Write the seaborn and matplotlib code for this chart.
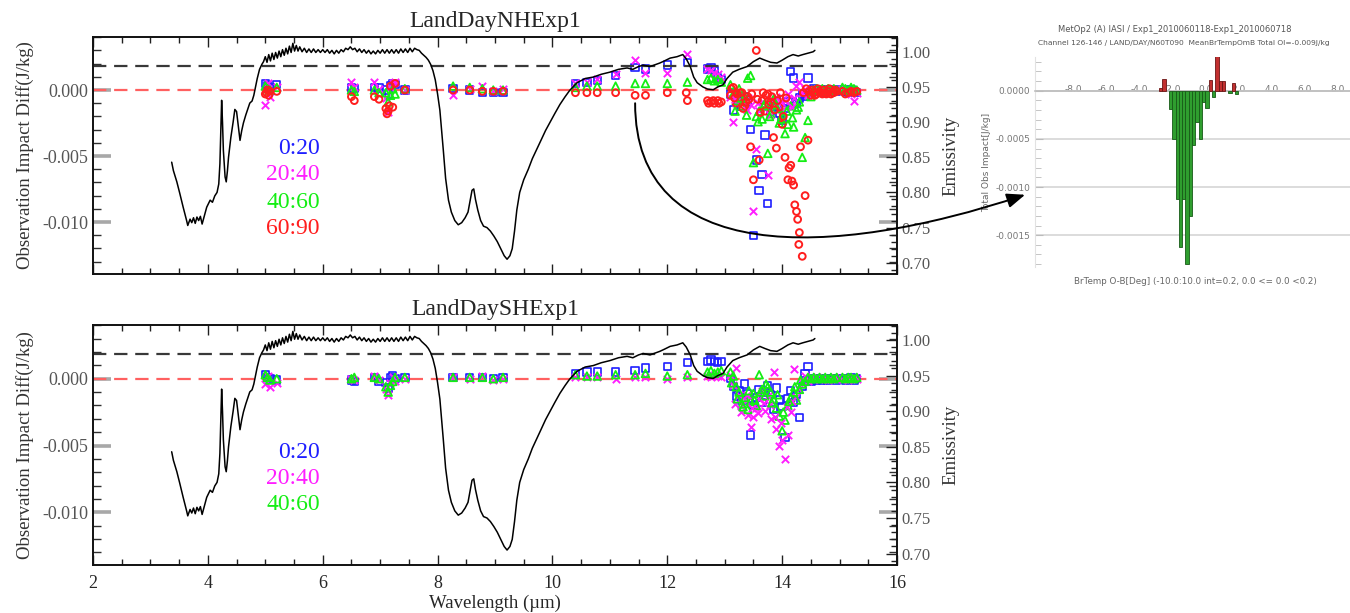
import matplotlib
matplotlib.use('Agg')
import numpy as np
import matplotlib.pyplot as plt
import seaborn as sns
from matplotlib.ticker import MultipleLocator, FormatStrFormatter
from matplotlib.path import Path
from matplotlib.patches import FancyArrowPatch

# ---------------------------------------------------------------- data
# IASI channel wavelengths (um), shared by every latitude band
wavelength = [
    5.00, 5.04, 5.08, 5.20,
    6.50, 6.55, 6.90, 6.98,
    7.10, 7.14, 7.18, 7.22, 7.26, 7.43,
    8.27, 8.56, 8.78, 8.97, 9.14,
    10.40, 10.60, 10.78, 11.10, 11.44, 11.62, 12.00, 12.35,
    12.70, 12.76, 12.82, 12.88, 12.94,
    13.10, 13.15, 13.20, 13.25, 13.30, 13.35, 13.40, 13.45, 13.50, 13.55,
    13.60, 13.65, 13.70, 13.75, 13.80, 13.85, 13.90, 13.95, 14.00, 14.05,
    14.10, 14.15, 14.20, 14.25, 14.30, 14.35, 14.40, 14.45, 14.50, 14.55,
    14.60, 14.65, 14.70, 14.75, 14.80, 14.85, 14.90, 14.95,
    15.05, 15.10, 15.15, 15.20, 15.25, 15.30,
]

# observation impact differences, in 1e-3 J/kg
nh_0_20 = [
    0.5, 0.3, 0.2, 0.4,
    0.15, 0.1, 0.2, 0.15,
    0.0, -0.3, 0.3, 0.5, 0.4, 0.0,
    0.1, 0.0, -0.2, -0.2, -0.2,
    0.5, 0.55, 0.7, 1.1, 1.7, 1.6, 1.9, 2.1,
    1.6, 1.7, 1.5, 0.9, 0.8,
    -0.3, -1.5, -0.6, -0.8, -1.2, -0.5, -0.9, -3.0, -11.0, -5.3,
    -7.6, -6.4, -3.4, -8.6, -1.6, -1.2, -0.8, -1.8, -2.3, -1.4,
    -0.9, 1.4, 0.9, -1.0, -0.6, -0.3, -0.5, 0.9, -0.2, 0.1,
    0.0, -0.1, 0.0, -0.2, 0.0, -0.1, 0.0, -0.1,
    0.0, -0.1, -0.2, 0.0, -0.1, -0.2,
]
nh_20_40 = [
    -1.1, 0.5, -0.5, 0.2,
    0.6, 0.2, 0.6, 0.1,
    -0.6, -1.7, 0.2, 0.5, 0.6, 0.0,
    -0.4, 0.1, 0.3, -0.1, 0.1,
    0.5, 0.6, 0.8, 1.2, 2.3, 1.3, 1.3, 2.7,
    1.6, 1.5, 1.3, 1.2, 1.0,
    -0.5, -2.4, -1.0, -0.3, -0.8, -1.3, -0.6, -1.1, -9.2, -4.5,
    -1.6, -0.9, -1.4, -6.4, -0.7, -1.2, -0.5, -1.0, -1.5, -0.8,
    -0.3, -1.1, -0.6, 0.3, 0.6, -0.2, 0.1, -0.4, 0.0, -0.1,
    0.1, 0.0, -0.1, 0.0, 0.1, 0.0, -0.1, 0.0,
    0.1, 0.0, -0.1, -0.3, -0.8, -0.2,
]
nh_40_60 = [
    0.3, 0.1, 0.0, 0.2,
    0.0, -0.1, 0.0, -0.2,
    -0.2, -0.9, -0.4, 0.1, -0.3, 0.1,
    0.3, 0.2, 0.1, 0.0, 0.0,
    0.2, 0.3, 0.3, 0.3, 0.5, 0.5, 0.5, 0.6,
    0.8, 0.9, 0.7, 0.8, 0.6,
    0.4, -0.3, -0.8, 0.1, -1.2, -0.5, 0.9, 1.1, -5.5, -2.0,
    -1.6, -2.2, -1.0, -4.8, -1.8, -0.7, -1.4, -2.5, -1.9, -3.3,
    -2.6, -1.2, -2.8, -1.5, -0.9, -5.1, -3.6, -2.3, -0.5, 0.0,
    0.1, 0.0, 0.1, 0.0, 0.1, 0.0, 0.1, 0.0,
    0.2, 0.1, 0.0, 0.2, 0.1, 0.0,
]
nh_60_90 = [
    -0.3, 0.0, -0.1, -0.1,
    -0.5, -0.8, -0.5, -0.7,
    -1.4, -1.6, 0.3, -1.3, 0.5, 0.0,
    0.0, 0.0, -0.1, -0.1, -0.1,
    -0.2, -0.2, -0.2, -0.2, -0.4, -0.4, -0.2, -0.8,
    -0.8, -0.9, -1.0, -0.8, -0.9,
    -0.4, 0.2, -1.0, -0.6, -0.2, -1.2, -0.5, -4.3, -6.8, 3.0,
    -5.3, -0.8, -1.6, -0.3, -0.9, -3.6, -4.4, -1.3, -2.6, -5.1,
    -6.8, -5.7, -7.2, -9.2, -10.8, -12.6, -8.0, -3.8, -0.4, -0.2,
    -0.3, -0.1, -0.3, -0.2, -0.1, -0.3, -0.2, -0.1,
    -0.1, -0.3, -0.2, -0.1, -0.2, -0.1,
]

# extra channels that sit between the shared ones
nh_20_40_extra_wl = [13.18, 13.38, 13.58, 13.78, 13.98, 14.18]
nh_20_40_extra = [-0.7, -1.5, -1.0, -1.9, -0.9, -1.3]
nh_40_60_extra_wl = [13.18, 13.28, 13.38, 13.58, 13.68, 13.78, 13.88, 13.98,
                     14.08, 14.18, 14.28]
nh_40_60_extra = [-1.6, -0.6, -1.9, -2.4, -1.2, -2.0, -1.1, -2.2,
                  -1.6, -2.1, -1.3]
nh_60_90_extra_wl = [5.02, 5.06, 7.12, 7.16, 12.33, 12.72, 12.80, 12.90,
                     13.12, 13.22, 13.32, 13.42, 13.62, 13.72, 13.87, 14.02,
                     14.12, 14.17, 14.22, 14.27, 14.29, 14.32, 14.37, 14.42,
                     14.47, 14.52, 14.62, 14.72, 14.82, 14.92,
                     13.17, 13.27, 13.37, 13.47, 13.57, 13.67, 13.77, 13.82,
                     13.92, 13.97, 14.07, 14.57, 14.67, 14.77, 14.87]
nh_60_90_extra = [-0.2, -0.4, -1.8, -1.2, -0.2, -1.0, -0.8, -1.0,
                  0.1, -0.3, -1.4, -0.7, -1.7, -0.4, -1.5, -2.0,
                  -5.9, -6.9, -8.7, -9.8, -11.7, -4.3, -0.2, 0.1,
                  -0.1, 0.0, 0.1, 0.0, 0.1, 0.0,
                  -0.6, -0.2, -0.9, -0.3, -0.7, -0.2, -1.1, -0.5,
                  -0.8, -0.2, -0.6, -0.4, -0.2, -0.3, -0.2]

sh_0_20 = [
    0.3, 0.1, 0.0, -0.1,
    -0.1, -0.2, 0.1, -0.2,
    -0.3, -0.7, 0.1, 0.2, 0.0, 0.1,
    0.1, 0.1, 0.1, 0.0, 0.1,
    0.4, 0.5, 0.5, 0.5, 0.6, 0.8, 0.9, 1.2,
    1.3, 1.4, 1.3, 1.2, 1.3,
    0.0, -0.6, -1.3, -0.9, -1.6, -0.4, -1.1, -4.2, -2.0, -1.4,
    -0.8, -1.8, -1.0, -0.5, -1.2, -2.3, -0.7, -1.6, -2.1, -4.4,
    -1.5, -0.9, -1.8, -1.2, -2.9, -0.6, 0.4, 0.9, -0.2, 0.0,
    -0.1, 0.0, -0.1, 0.0, -0.1, 0.0, 0.0, -0.1,
    0.0, -0.1, 0.0, 0.1, -0.1, 0.0,
]
sh_20_40 = [
    -0.4, 0.2, -0.6, -0.3,
    0.0, -0.1, 0.2, -0.1,
    -0.8, -1.2, -0.3, 0.1, -0.2, 0.0,
    0.1, 0.0, 0.2, -0.1, 0.0,
    0.1, 0.1, 0.1, 0.0, 0.1, 0.1, 0.0, 0.1,
    0.2, 0.1, 0.3, 0.2, 0.1,
    0.3, -0.5, 0.8, -1.2, -2.0, -1.6, -2.7, -3.6, -2.9, -2.2,
    -1.5, -0.9, -2.4, -1.3, -3.0, 0.5, -3.8, -5.0, -4.6, -6.0,
    -4.2, -2.5, 0.7, -1.4, -0.8, -0.3, 0.2, -0.2, 0.1, 0.0,
    0.1, 0.0, 0.1, 0.0, -0.1, 0.0, 0.1, 0.0,
    0.0, 0.1, -0.1, 0.0, 0.1, 0.0,
]
sh_40_60 = [
    0.3, 0.1, -0.1, 0.0,
    0.0, 0.1, 0.1, 0.0,
    -0.6, -1.0, -0.5, -0.2, 0.1, 0.1,
    0.1, 0.1, 0.1, 0.0, 0.1,
    0.3, 0.2, 0.2, 0.3, 0.3, 0.4, 0.2, 0.3,
    0.5, 0.6, 0.4, 0.5, 0.6,
    0.5, 0.2, -0.6, -1.0, -1.9, -1.4, -2.3, -1.7, -1.1, -2.0,
    0.3, -0.8, -1.3, -0.6, -1.0, -1.5, -2.2, -2.8, -3.9, -3.1,
    -2.0, -1.4, -1.0, -1.6, -0.8, -0.4, -0.2, 0.1, 0.0, 0.1,
    0.0, 0.1, 0.0, 0.1, 0.0, 0.1, 0.0, 0.1,
    0.1, 0.0, 0.1, 0.1, 0.0, 0.1,
]
sh_20_40_extra_wl = [13.18, 13.28, 13.38, 13.48, 13.58, 13.68, 13.78, 13.88,
                     13.98, 14.08, 14.18]
sh_20_40_extra = [-1.9, -2.5, -1.2, -2.2, -2.6, -1.8, -2.0, -2.9,
                  -3.3, -2.1, -1.7]
sh_40_60_extra_wl = [13.12, 13.22, 13.32, 13.42, 13.52, 13.62, 13.72,
                     13.82, 13.92, 14.02, 14.12, 14.22, 14.32]
sh_40_60_extra = [-0.3, -1.5, -2.1, -0.9, -1.6, -1.0, -0.4,
                  -1.8, -1.2, -2.5, -1.7, -0.6, -0.1]

# land surface emissivity spectrum
emis_wl = [
    3.37, 3.40, 3.46, 3.51, 3.57, 3.63, 3.65, 3.69, 3.72, 3.75,
    3.78, 3.81, 3.84, 3.87, 3.90, 3.93, 3.98, 4.04, 4.08, 4.12,
    4.16, 4.19, 4.21, 4.23, 4.24, 4.255, 4.27, 4.30, 4.32, 4.34,
    4.36, 4.40, 4.44, 4.47, 4.50, 4.53, 4.56, 4.59, 4.62, 4.66,
    4.70, 4.73, 4.77, 4.80, 4.83, 4.86, 4.90, 4.94,
    4.97, 5.00, 5.03, 5.06, 5.09, 5.12, 5.15, 5.18, 5.21, 5.24,
    5.27, 5.30, 5.33, 5.36, 5.39, 5.42, 5.45, 5.48, 5.51, 5.54,
    5.57, 5.60, 5.64, 5.68, 5.72, 5.76, 5.80, 5.84, 5.88, 5.92,
    5.96, 6.00, 6.04, 6.08, 6.12, 6.16, 6.20, 6.24, 6.28, 6.32,
    6.36, 6.40, 6.44, 6.48, 6.52, 6.56, 6.60, 6.64, 6.68, 6.72,
    6.76, 6.80, 6.84, 6.88, 6.92, 6.96, 7.00, 7.04, 7.08, 7.12,
    7.16, 7.20, 7.24, 7.28, 7.32, 7.36, 7.40, 7.44, 7.48, 7.52,
    7.56, 7.60, 7.64, 7.68, 7.72, 7.76, 7.80, 7.84, 7.88, 7.92,
    7.96, 8.00, 8.04, 8.08, 8.10, 8.14, 8.19, 8.24, 8.30, 8.36,
    8.42, 8.48, 8.53, 8.57, 8.60, 8.63, 8.66, 8.70, 8.75, 8.80,
    8.86, 8.92, 8.98, 9.04, 9.10, 9.16, 9.21, 9.26, 9.30, 9.34,
    9.38, 9.43, 9.50, 9.58, 9.65, 9.72, 9.80, 9.88, 9.96, 10.04,
    10.13, 10.22, 10.30, 10.43, 10.57, 10.71, 10.85, 11.00, 11.15, 11.30,
    11.40, 11.50, 11.58, 11.70, 11.80, 11.87, 11.95, 12.05, 12.17, 12.27,
    12.33, 12.40, 12.46, 12.52, 12.62, 12.70, 12.80, 12.88, 12.97, 13.04,
    13.14, 13.25, 13.39, 13.50, 13.61, 13.70, 13.80, 13.91, 14.00, 14.10,
    14.19, 14.28, 14.36, 14.45, 14.54, 14.57,
]
emissivity = [
    0.843, 0.831, 0.815, 0.799, 0.779, 0.760, 0.753, 0.762, 0.757, 0.764,
    0.756, 0.765, 0.760, 0.766, 0.755, 0.764, 0.779, 0.789, 0.786, 0.795,
    0.800, 0.812, 0.841, 0.900, 0.931, 0.900, 0.860, 0.822, 0.815, 0.830,
    0.850, 0.878, 0.900, 0.918, 0.915, 0.895, 0.874, 0.888, 0.899, 0.910,
    0.920, 0.927, 0.930, 0.938, 0.950, 0.962, 0.975, 0.982,
    0.986, 0.993, 0.985, 0.996, 0.987, 0.998, 0.989, 0.999, 0.991, 1.001,
    0.993, 1.003, 0.995, 1.005, 0.997, 1.008, 0.999, 1.012, 1.001, 1.009,
    1.001, 1.007, 1.000, 1.005, 0.999, 1.004, 0.999, 1.004, 0.999, 1.003,
    0.999, 1.003, 0.999, 1.003, 0.998, 1.002, 0.997, 1.002, 0.998, 1.003,
    1.000, 1.005, 1.003, 1.007, 1.003, 1.005, 1.000, 1.004, 0.999, 1.003,
    0.998, 1.002, 0.997, 1.001, 0.997, 1.002, 0.998, 1.003, 0.998, 1.003,
    0.998, 1.003, 0.998, 1.003, 0.998, 1.004, 0.999, 1.004, 0.999, 1.005,
    1.000, 1.005, 1.003, 1.002, 0.998, 0.995, 0.992, 0.988, 0.982, 0.973,
    0.960, 0.940, 0.917, 0.880, 0.860, 0.820, 0.789, 0.772, 0.760, 0.754,
    0.757, 0.764, 0.772, 0.790, 0.803, 0.805, 0.790, 0.775, 0.760, 0.752,
    0.750, 0.745, 0.738, 0.730, 0.720, 0.710, 0.705, 0.710, 0.720, 0.745,
    0.775, 0.800, 0.818, 0.833, 0.848, 0.860, 0.874, 0.888, 0.900, 0.912,
    0.925, 0.936, 0.945, 0.956, 0.962, 0.964, 0.968, 0.971, 0.975, 0.977,
    0.975, 0.979, 0.981, 0.979, 0.982, 0.984, 0.987, 0.991, 0.993, 0.996,
    0.990, 0.979, 0.964, 0.956, 0.950, 0.947, 0.946, 0.950, 0.953, 0.962,
    0.971, 0.975, 0.979, 0.986, 0.991, 0.988, 0.985, 0.984, 0.988, 0.993,
    0.996, 0.994, 0.996, 0.998, 1.000, 1.002,
]

# inset histogram: BrTemp O-B bins (deg) and total obs impact (1e-3 J/kg)
neg_bins = [-2.1, -1.9, -1.7, -1.5, -1.3, -1.1, -0.9, -0.7, -0.5, -0.3,
            -0.1, 0.1, 0.5, 1.5, 1.9]
neg_impact = [-0.19, -0.50, -1.12, -1.62, -1.12, -1.80, -1.30, -0.56, -0.32, -0.50,
              -0.12, -0.18, -0.07, -0.02, -0.03]
pos_bins = [-2.7, -2.5, 0.3, 0.7, 0.9, 1.1, 1.7]
pos_impact = [0.03, 0.12, 0.11, 0.36, 0.10, 0.10, 0.08]
inset_xticks = [-8, -6, -4, -2, 0, 2, 4, 6, 8]

# ---------------------------------------------------------------- style
sns.set_style('ticks')
plt.rcParams['font.family'] = ['Liberation Serif', 'DejaVu Serif']
plt.rcParams['axes.unicode_minus'] = False

BLUE, MAGENTA, GREEN, RED = '#1e1eff', '#ff1eff', '#14ee14', '#ff1e1e'

fig = plt.figure(figsize=(13.5, 6.13), dpi=100)
W, H = 1350, 613
ax_nh = fig.add_axes([93 / W, 1 - 274 / H, 804 / W, 237 / H])
ax_sh = fig.add_axes([93 / W, 1 - 565 / H, 804 / W, 240 / H])
ax_in = fig.add_axes([1035 / W, 1 - 267 / H, 315 / W, 210 / H])


def to_si(vals):
    return np.asarray(vals) * 1e-3


def draw_panel(ax, title, series, extras, labels, label_y):
    ax2 = ax.twinx()
    ax.axhline(0, color='#ff6060', lw=1.6, dashes=(6, 3.5), zorder=1)
    ax2.axhline(0.98, color='#383838', lw=1.6, dashes=(6, 3.5), zorder=1)
    sns.lineplot(x=emis_wl, y=emissivity, sort=False, estimator=None,
                 color='black', linewidth=1.1, ax=ax2)

    for vals, style in series:
        sns.scatterplot(x=wavelength, y=to_si(vals), ax=ax, zorder=3, **style)
    for xs, vals, style in extras:
        sns.scatterplot(x=xs, y=to_si(vals), ax=ax, zorder=3, **style)

    for (txt, col), yv in zip(labels, label_y):
        ax.text(5.95, yv, txt, color=col, ha='right', va='center', fontsize=17)

    ax.set_xlim(2, 16)
    ax.set_ylim(-0.01394, 0.00402)
    ax2.set_ylim(0.684, 1.021)
    ax.xaxis.set_major_locator(MultipleLocator(2))
    ax.xaxis.set_minor_locator(MultipleLocator(0.5))
    ax.yaxis.set_major_locator(MultipleLocator(0.005))
    ax.yaxis.set_minor_locator(MultipleLocator(0.001))
    ax.yaxis.set_major_formatter(FormatStrFormatter('%.3f'))
    ax2.yaxis.set_major_locator(MultipleLocator(0.05))
    ax2.yaxis.set_minor_locator(MultipleLocator(0.01))
    ax2.yaxis.set_major_formatter(FormatStrFormatter('%.2f'))

    ax.tick_params(axis='x', which='both', direction='in', top=True, bottom=True,
                   color='#202020')
    ax.tick_params(axis='x', which='major', length=7, width=1, labelsize=13, pad=7)
    ax.tick_params(axis='x', which='minor', length=4, width=1)
    ax.tick_params(axis='y', which='major', direction='in', left=True, right=True,
                   length=13, width=2.6, color='#a8a8a8', labelsize=13,
                   labelcolor='#555555')
    ax.tick_params(axis='y', which='minor', direction='in', left=True, right=True,
                   length=6, width=1, color='#303030')
    ax2.tick_params(axis='y', which='major', direction='in', length=8, width=1,
                    color='#202020', labelsize=12, labelcolor='#555555')
    ax2.tick_params(axis='y', which='minor', direction='in', length=4, width=1,
                    color='#202020')
    for a in (ax, ax2):
        for s in a.spines.values():
            s.set_color('#111111')
            s.set_linewidth(1.2)

    ax.set_title(title, fontsize=17, pad=7)
    ax.set_ylabel('Observation Impact Diff(J/kg)', fontsize=13.5, color='#333333',
                  labelpad=6)
    ax2.set_ylabel('Emissivity', fontsize=13.5, color='#333333', labelpad=8)
    ax2.set_xlabel('')
    return ax2


sq = dict(marker='s', s=28, facecolor='none', edgecolor=BLUE, linewidth=1.2)
xx = dict(marker='x', s=28, color=MAGENTA, linewidth=1.4)
tri = dict(marker='^', s=30, facecolor='none', edgecolor=GREEN, linewidth=1.3)
circ = dict(marker='o', s=24, facecolor='none', edgecolor=RED, linewidth=1.4)

draw_panel(ax_nh, 'LandDayNHExp1',
           [(nh_0_20, sq), (nh_20_40, xx), (nh_40_60, tri), (nh_60_90, circ)],
           [(nh_20_40_extra_wl, nh_20_40_extra, xx),
            (nh_40_60_extra_wl, nh_40_60_extra, tri),
            (nh_60_90_extra_wl, nh_60_90_extra, circ)],
           [('0:20', BLUE), ('20:40', MAGENTA), ('40:60', GREEN), ('60:90', RED)],
           [-0.0044, -0.0064, -0.0085, -0.0105])
ax_nh.tick_params(axis='x', labelbottom=False)

draw_panel(ax_sh, 'LandDaySHExp1',
           [(sh_0_20, sq), (sh_20_40, xx), (sh_40_60, tri)],
           [(sh_20_40_extra_wl, sh_20_40_extra, xx),
            (sh_40_60_extra_wl, sh_40_60_extra, tri)],
           [('0:20', BLUE), ('20:40', MAGENTA), ('40:60', GREEN)],
           [-0.0055, -0.0075, -0.0094])
ax_sh.set_xlabel('Wavelength (µm)', fontsize=13.5, labelpad=2)

# ---------------------------------------------------------------- inset histogram
ax_in.bar(neg_bins, to_si(neg_impact), width=0.2, color='#2f9e2f',
          edgecolor='#175a17', linewidth=0.6, zorder=3)
ax_in.bar(pos_bins, to_si(pos_impact), width=0.2, color='#c23030',
          edgecolor='#6a1414', linewidth=0.6, zorder=3)
ax_in.set_xlim(-10.3, 8.75)
ax_in.set_ylim(-0.00183, 0.00035)
ax_in.set_xticks(inset_xticks)
ax_in.xaxis.set_major_formatter(FormatStrFormatter('%.1f'))
ax_in.yaxis.set_major_locator(MultipleLocator(0.0005))
ax_in.yaxis.set_minor_locator(MultipleLocator(0.0001))
ax_in.yaxis.set_major_formatter(FormatStrFormatter('%.4f'))
ax_in.yaxis.grid(True, color='#d6d6d6', linewidth=1.2, zorder=0)
ax_in.set_axisbelow(True)
for s in ('top', 'right'):
    ax_in.spines[s].set_visible(False)
ax_in.spines['bottom'].set_position(('data', 0))
ax_in.spines['bottom'].set_color('#bdbdbd')
ax_in.spines['bottom'].set_linewidth(1.2)
ax_in.spines['left'].set_color('#e2e2e2')
ax_in.tick_params(axis='x', length=0, pad=-4, labelsize=6.5, labelcolor='#777777',
                  labelfontfamily='DejaVu Sans')
ax_in.tick_params(axis='y', which='both', direction='in', color='#bbbbbb',
                  labelsize=6.5, labelcolor='#777777', labelfontfamily='DejaVu Sans')
ax_in.tick_params(axis='y', which='major', length=6)
ax_in.tick_params(axis='y', which='minor', length=4)
ax_in.set_ylabel('Total Obs Impact[J/kg]', fontsize=6.5, color='#666666',
                 family='DejaVu Sans', labelpad=3)
fig.text(1175 / W, 1 - 29 / H, 'MetOp2 (A) IASI / Exp1_2010060118-Exp1_2010060718',
         ha='center', va='center', fontsize=6, color='#555555', family='DejaVu Sans')
fig.text(1184 / W, 1 - 43 / H,
         'Channel 126-146 / LAND/DAY/N60T090  MeanBrTempOmB Total OI=-0.009J/kg',
         ha='center', va='center', fontsize=5.4, color='#555555', family='DejaVu Sans')
fig.text(1195 / W, 1 - 281 / H,
         'BrTemp O-B[Deg] (-10.0:10.0 int=0.2, 0.0 <= 0.0 <0.2)',
         ha='center', va='center', fontsize=6.3, color='#666666', family='DejaVu Sans')

# ---------------------------------------------------------------- curved arrow
to_fig = fig.transFigure.inverted()
p0 = to_fig.transform(ax_nh.transData.transform((11.44, -0.0010)))
p3 = to_fig.transform(ax_in.transData.transform((-10.9, -0.00108)))
c1 = (p0[0], p0[1] - 0.264)
c2 = (p3[0] - 0.1445, p3[1] - 0.106)
arrow_path = Path([tuple(p0), c1, c2, tuple(p3)],
                  [Path.MOVETO, Path.CURVE4, Path.CURVE4, Path.CURVE4])
arrow = FancyArrowPatch(path=arrow_path, arrowstyle='-|>,head_length=0.55,head_width=0.22',
                        mutation_scale=20, color='black', lw=1.4,
                        transform=fig.transFigure, zorder=10)
fig.add_artist(arrow)

fig.savefig('out.png', dpi=100)
